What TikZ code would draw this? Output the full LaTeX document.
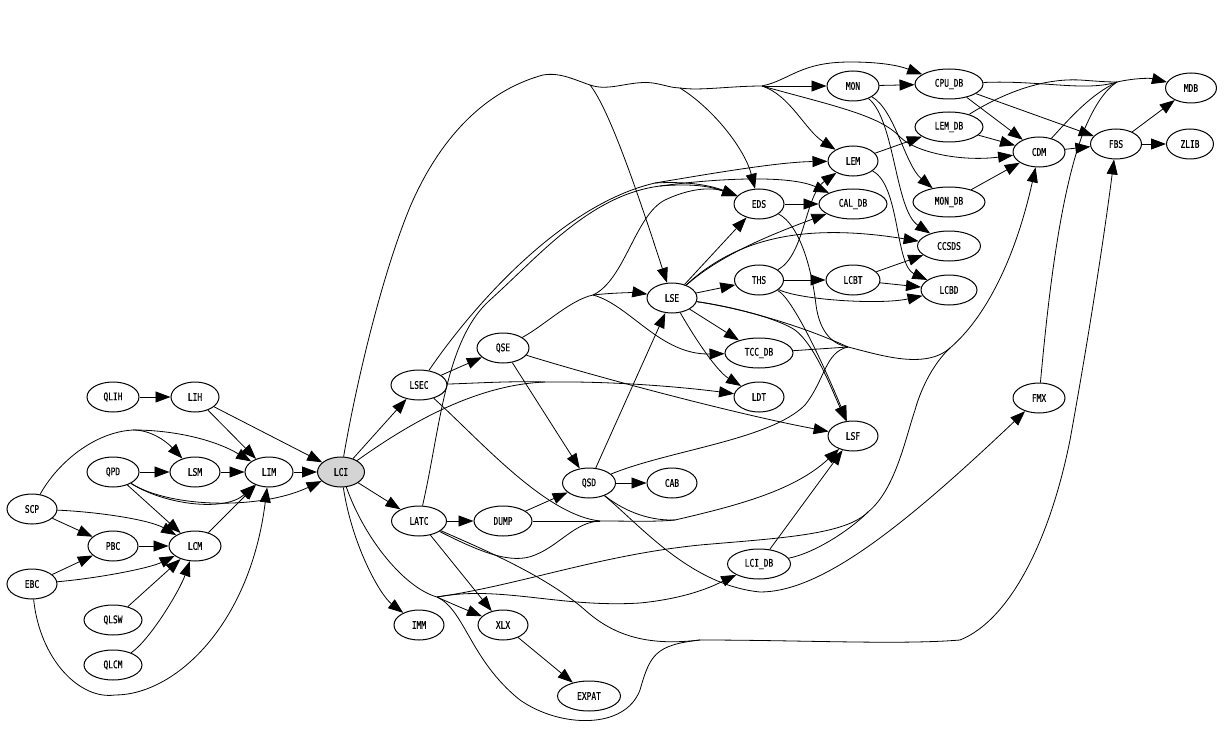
\documentclass[tikz,border=0pt]{standalone}
\usepackage{fontspec}
\newfontfamily\nodefont[FakeStretch=0.75,FakeBold=0.6]{DejaVu Sans Mono}
\usetikzlibrary{shapes.geometric,arrows.meta}
\begin{document}
\begin{tikzpicture}[x=1pt,y=-1pt,
  nd/.style={ellipse,draw,line width=1pt,minimum height=30pt,inner sep=0pt,font=\nodefont\fontsize{10.5}{11}\selectfont},
  e/.style={draw,line width=0.8pt,-{Triangle[length=15pt,width=11pt]}},
  l/.style={draw,line width=0.8pt}]
\useasboundingbox (0,0) rectangle (1224,733);
% nodes
\node[nd,minimum width=52pt] (QLIH) at (113,397) {QLIH};
\node[nd,minimum width=48pt] (LIH) at (195,397) {LIH};
\node[nd,minimum width=52pt] (QPD) at (113,472) {QPD};
\node[nd,minimum width=50pt] (LSM) at (195,472) {LSM};
\node[nd,minimum width=48pt] (LIM) at (269,472) {LIM};
\node[nd,minimum width=47pt,fill=black!17] (LCI) at (341,472) {LCI};
\node[nd,minimum width=50pt] (SCP) at (32,509) {SCP};
\node[nd,minimum width=50pt] (PBC) at (113,546) {PBC};
\node[nd,minimum width=52pt] (LCM) at (195,546) {LCM};
\node[nd,minimum width=50pt] (EBC) at (32,584) {EBC};
\node[nd,minimum width=58pt] (QLSW) at (113,620) {QLSW};
\node[nd,minimum width=58pt] (QLCM) at (113,665) {QLCM};
\node[nd,minimum width=56pt] (LSEC) at (419,385) {LSEC};
\node[nd,minimum width=52pt] (QSE) at (503,348) {QSE};
\node[nd,minimum width=55pt] (LATC) at (419,521) {LATC};
\node[nd,minimum width=58pt] (DUMP) at (503,521) {DUMP};
\node[nd,minimum width=53pt] (QSD) at (589,483) {QSD};
\node[nd,minimum width=50pt] (CAB) at (672,483) {CAB};
\node[nd,minimum width=50pt] (IMM) at (419,625) {IMM};
\node[nd,minimum width=50pt] (XLX) at (503,625) {XLX};
\node[nd,minimum width=63pt] (EXPAT) at (589,696) {EXPAT};
\node[nd,minimum width=50pt] (LSE) at (672,298) {LSE};
\node[nd,minimum width=50pt] (EDS) at (759,204) {EDS};
\node[nd,minimum width=49pt] (THS) at (759,280) {THS};
\node[nd,minimum width=68pt] (TCCDB) at (759,353) {TCC\_DB};
\node[nd,minimum width=50pt] (LDT) at (759,397) {LDT};
\node[nd,minimum width=63pt] (LCIDB) at (759,564) {LCI\_DB};
\node[nd,minimum width=50pt] (LEM) at (853,161) {LEM};
\node[nd,minimum width=52pt] (MON) at (853,86) {MON};
\node[nd,minimum width=68pt] (CALDB) at (853,204) {CAL\_DB};
\node[nd,minimum width=54pt] (LCBT) at (853,280) {LCBT};
\node[nd,minimum width=50pt] (LSF) at (853,436) {LSF};
\node[nd,minimum width=68pt] (CPUDB) at (949,84) {CPU\_DB};
\node[nd,minimum width=68pt] (LEMDB) at (949,127) {LEM\_DB};
\node[nd,minimum width=72pt] (MONDB) at (949,202) {MON\_DB};
\node[nd,minimum width=63pt] (CCSDS) at (949,246) {CCSDS};
\node[nd,minimum width=56pt] (LCBD) at (949,290) {LCBD};
\node[nd,minimum width=52pt] (CDM) at (1039,152) {CDM};
\node[nd,minimum width=52pt] (FMX) at (1039,398) {FMX};
\node[nd,minimum width=51pt] (FBS) at (1116,144) {FBS};
\node[nd,minimum width=51pt] (MDB) at (1191,88) {MDB};
\node[nd,minimum width=47pt] (ZLIB) at (1190,144) {ZLIB};
% junction points
\coordinate (tA) at (590,85);
\coordinate (tB) at (680,88);
\coordinate (tF) at (762,86);
\coordinate (jL) at (437,597);
\coordinate (bJ) at (700,640);
\coordinate (kJ) at (868,512);
\coordinate (cJ) at (950,348);
\coordinate (J) at (848,347);
\coordinate (dJ) at (600,521);
\coordinate (qJ) at (675,520);
\coordinate (sJ) at (655,183);
\coordinate (sJ2) at (660,186);
\coordinate (qsJ) at (593,295);
\coordinate (ldJ) at (545,382);
\coordinate (mJ) at (1117,82);
\coordinate (scJ) at (133,430);
% left cluster
\draw[e] (QLIH) -- (LIH);
\draw[e] (LIH) -- (LIM);
\draw[e] (LIH) -- (LCI);
\draw[e] (QPD) -- (LSM);
\draw[e] (LSM) -- (LIM);
\draw[e] (LIM) -- (LCI);
\draw[e] (QPD) .. controls (165,505) and (225,512) .. (LIM);
\draw[e] (QPD) .. controls (170,508) and (260,510) .. (LCI);
\draw[e] (QPD) -- (LCM);
\draw[l] (SCP) .. controls (58,462) and (95,432) .. (scJ);
\draw[e] (scJ) .. controls (150,430) and (165,440) .. (LSM);
\draw[e] (scJ) .. controls (175,430) and (215,440) .. (LIM);
\draw[e] (SCP) -- (PBC);
\draw[e] (SCP) .. controls (100,512) and (150,520) .. (LCM);
\draw[e] (EBC) -- (PBC);
\draw[e] (EBC) .. controls (100,578) and (150,568) .. (LCM);
\draw[e] (EBC) .. controls (40,660) and (80,700) .. (115,695) .. controls (175,695) and (250,625) .. (LIM);
\draw[e] (PBC) -- (LCM);
\draw[e] (QLSW) -- (LCM);
\draw[e] (QLCM) .. controls (150,640) and (180,590) .. (LCM);
\draw[e] (LCM) -- (LIM);
% LCI outputs
\draw[e] (LCI) -- (LSEC);
\draw[e] (LCI) -- (LATC);
\draw[e] (LCI) .. controls (352,545) and (380,595) .. (IMM);
\draw[l] (LCI) .. controls (365,540) and (405,588) .. (jL);
\draw[e] (jL) .. controls (450,603) and (462,608) .. (XLX);
\draw[e] (jL) .. controls (500,585) and (560,608) .. (640,603) .. controls (690,598) and (715,585) .. (LCIDB);
\draw[l] (jL) .. controls (520,585) and (600,555) .. (700,545) .. controls (780,538) and (845,535) .. (kJ);
\draw[l] (jL) .. controls (465,610) and (470,660) .. (520,700) .. controls (560,728) and (625,730) .. (640,690) .. controls (650,655) and (655,645) .. (bJ);
\draw[e] (bJ) .. controls (800,640) and (900,645) .. (960,640) .. controls (1010,620) and (1050,540) .. (1070,440) .. controls (1090,330) and (1105,230) .. (FBS);
\draw[l] (kJ) .. controls (895,490) and (905,440) .. (915,410) .. controls (922,385) and (935,362) .. (cJ);
\draw[e] (cJ) .. controls (985,318) and (1015,260) .. (CDM);
\draw[l] (LCI) .. controls (400,430) and (470,385) .. (ldJ);
\draw[e] (ldJ) .. controls (620,381) and (690,388) .. (LDT);
% top trunk from LCI
\draw[l] (LCI) .. controls (355,390) and (380,280) .. (410,207) .. controls (430,160) and (470,95) .. (543,75) .. controls (560,72) and (575,80) .. (tA);
\draw[l] (tA) .. controls (610,92) and (630,80) .. (653,83) .. controls (665,85) and (672,88) .. (tB);
\draw[l] (tB) .. controls (700,91) and (730,86) .. (tF);
\draw[e] (tA) .. controls (610,110) and (640,200) .. (LSE);
\draw[e] (tB) .. controls (715,110) and (745,150) .. (EDS);
\draw[e] (tF) -- (MON);
\draw[e] (tF) .. controls (790,80) and (800,62) .. (850,62) .. controls (890,62) and (905,68) .. (CPUDB);
\draw[e] (tF) .. controls (790,95) and (805,130) .. (LEM);
\draw[e] (tF) .. controls (830,105) and (880,115) .. (900,137) .. controls (915,152) and (960,162) .. (CDM);
% LSEC
\draw[e] (LSEC) -- (QSE);
\draw[l] (LSEC) .. controls (480,383) and (510,381) .. (ldJ);
\draw[l] (LSEC) .. controls (480,440) and (545,515) .. (dJ);
\draw[l] (LSEC) .. controls (470,310) and (560,205) .. (sJ);
\draw[e] (sJ) .. controls (720,172) and (780,162) .. (LEM);
\draw[e] (sJ) .. controls (690,181) and (712,186) .. (EDS);
% LATC
\draw[e] (LATC) -- (DUMP);
\draw[e] (LATC) -- (XLX);
\draw[l] (LATC) .. controls (480,548) and (545,575) .. (585,610) .. controls (615,637) and (650,646) .. (bJ);
\draw[l] (LATC) .. controls (480,552) and (512,565) .. (535,555) .. controls (560,545) and (575,522) .. (dJ);
\draw[l] (LATC) .. controls (440,430) and (445,340) .. (490,300) .. controls (540,255) and (590,195) .. (sJ2);
\draw[e] (sJ2) .. controls (720,178) and (790,175) .. (CALDB);
\draw[e] (sJ2) .. controls (695,183) and (712,187) .. (EDS);
% DUMP, QSE, QSD
\draw[e] (DUMP) -- (QSD);
\draw[l] (DUMP) -- (dJ);
\draw[e] (QSE) -- (QSD);
\draw[e] (QSE) .. controls (600,378) and (740,415) .. (LSF);
\draw[l] (QSE) .. controls (545,325) and (570,300) .. (qsJ);
\draw[e] (qsJ) .. controls (620,292) and (640,293) .. (LSE);
\draw[e] (qsJ) .. controls (630,305) and (660,355) .. (TCCDB);
\draw[e] (qsJ) .. controls (625,280) and (635,215) .. (665,200) .. controls (690,188) and (712,187) .. (EDS);
\draw[e] (QSD) -- (CAB);
\draw[e] (QSD) -- (LSE);
\draw[l] (QSD) .. controls (670,450) and (770,440) .. (805,405) .. controls (825,380) and (825,352) .. (J);
\draw[l] (QSD) .. controls (620,508) and (645,521) .. (qJ);
\draw[l] (dJ) .. controls (630,521) and (655,522) .. (qJ);
\draw[e] (qJ) .. controls (740,505) and (795,490) .. (LSF);
\draw[e] (QSD) .. controls (640,525) and (690,585) .. (760,592) .. controls (820,592) and (900,530) .. (FMX);
\draw[e] (XLX) -- (EXPAT);
% LSE
\draw[e] (LSE) -- (EDS);
\draw[e] (LSE) -- (THS);
\draw[e] (LSE) .. controls (720,255) and (770,235) .. (CALDB);
\draw[e] (LSE) .. controls (735,240) and (800,222) .. (CCSDS);
\draw[e] (LSE) -- (TCCDB);
\draw[e] (LSE) .. controls (690,330) and (715,370) .. (LDT);
\draw[l] (LSE) .. controls (740,308) and (800,325) .. (J);
\draw[e] (LSE) .. controls (740,308) and (780,320) .. (795,330) .. controls (815,345) and (832,390) .. (LSF);
% THS, LCBT, EDS, TCC_DB
\draw[e] (THS) -- (LCBT);
\draw[e] (THS) .. controls (800,300) and (880,305) .. (LCBD);
\draw[e] (THS) .. controls (805,255) and (805,195) .. (LEM);
\draw[e] (THS) .. controls (795,300) and (830,380) .. (LSF);
\draw[e] (LCBT) -- (CCSDS);
\draw[e] (LCBT) -- (LCBD);
\draw[e] (EDS) -- (CALDB);
\draw[l] (EDS) .. controls (800,225) and (812,270) .. (816,305) .. controls (820,335) and (835,345) .. (J);
\draw[l] (TCCDB) -- (J);
\draw[l] (J) .. controls (880,355) and (925,370) .. (cJ);
% LEM, MON
\draw[e] (LEM) -- (LEMDB);
\draw[e] (LEM) .. controls (900,185) and (895,265) .. (LCBD);
\draw[e] (MON) -- (CPUDB);
\draw[e] (MON) .. controls (895,110) and (905,165) .. (MONDB);
\draw[e] (MON) .. controls (895,120) and (895,210) .. (CCSDS);
% right side
\draw[e] (CPUDB) -- (CDM);
\draw[e] (CPUDB) -- (FBS);
\draw[l] (CPUDB) .. controls (1040,80) and (1085,92) .. (mJ);
\draw[e] (mJ) .. controls (1135,78) and (1150,78) .. (MDB);
\draw[l] (LEMDB) .. controls (1000,95) and (1040,78) .. (1080,80) .. controls (1095,81) and (1105,82) .. (mJ);
\draw[l] (CDM) .. controls (1070,118) and (1090,95) .. (mJ);
\draw[l] (FMX) .. controls (1048,300) and (1060,190) .. (1085,128) .. controls (1095,105) and (1105,90) .. (mJ);
\draw[e] (LEMDB) -- (CDM);
\draw[e] (MONDB) -- (CDM);
\draw[e] (CDM) -- (FBS);
\draw[e] (FBS) -- (MDB);
\draw[e] (FBS) -- (ZLIB);
\draw[e] (LCIDB) -- (LSF);
\draw[l] (LCIDB) .. controls (815,553) and (850,530) .. (kJ);
\end{tikzpicture}
\end{document}
